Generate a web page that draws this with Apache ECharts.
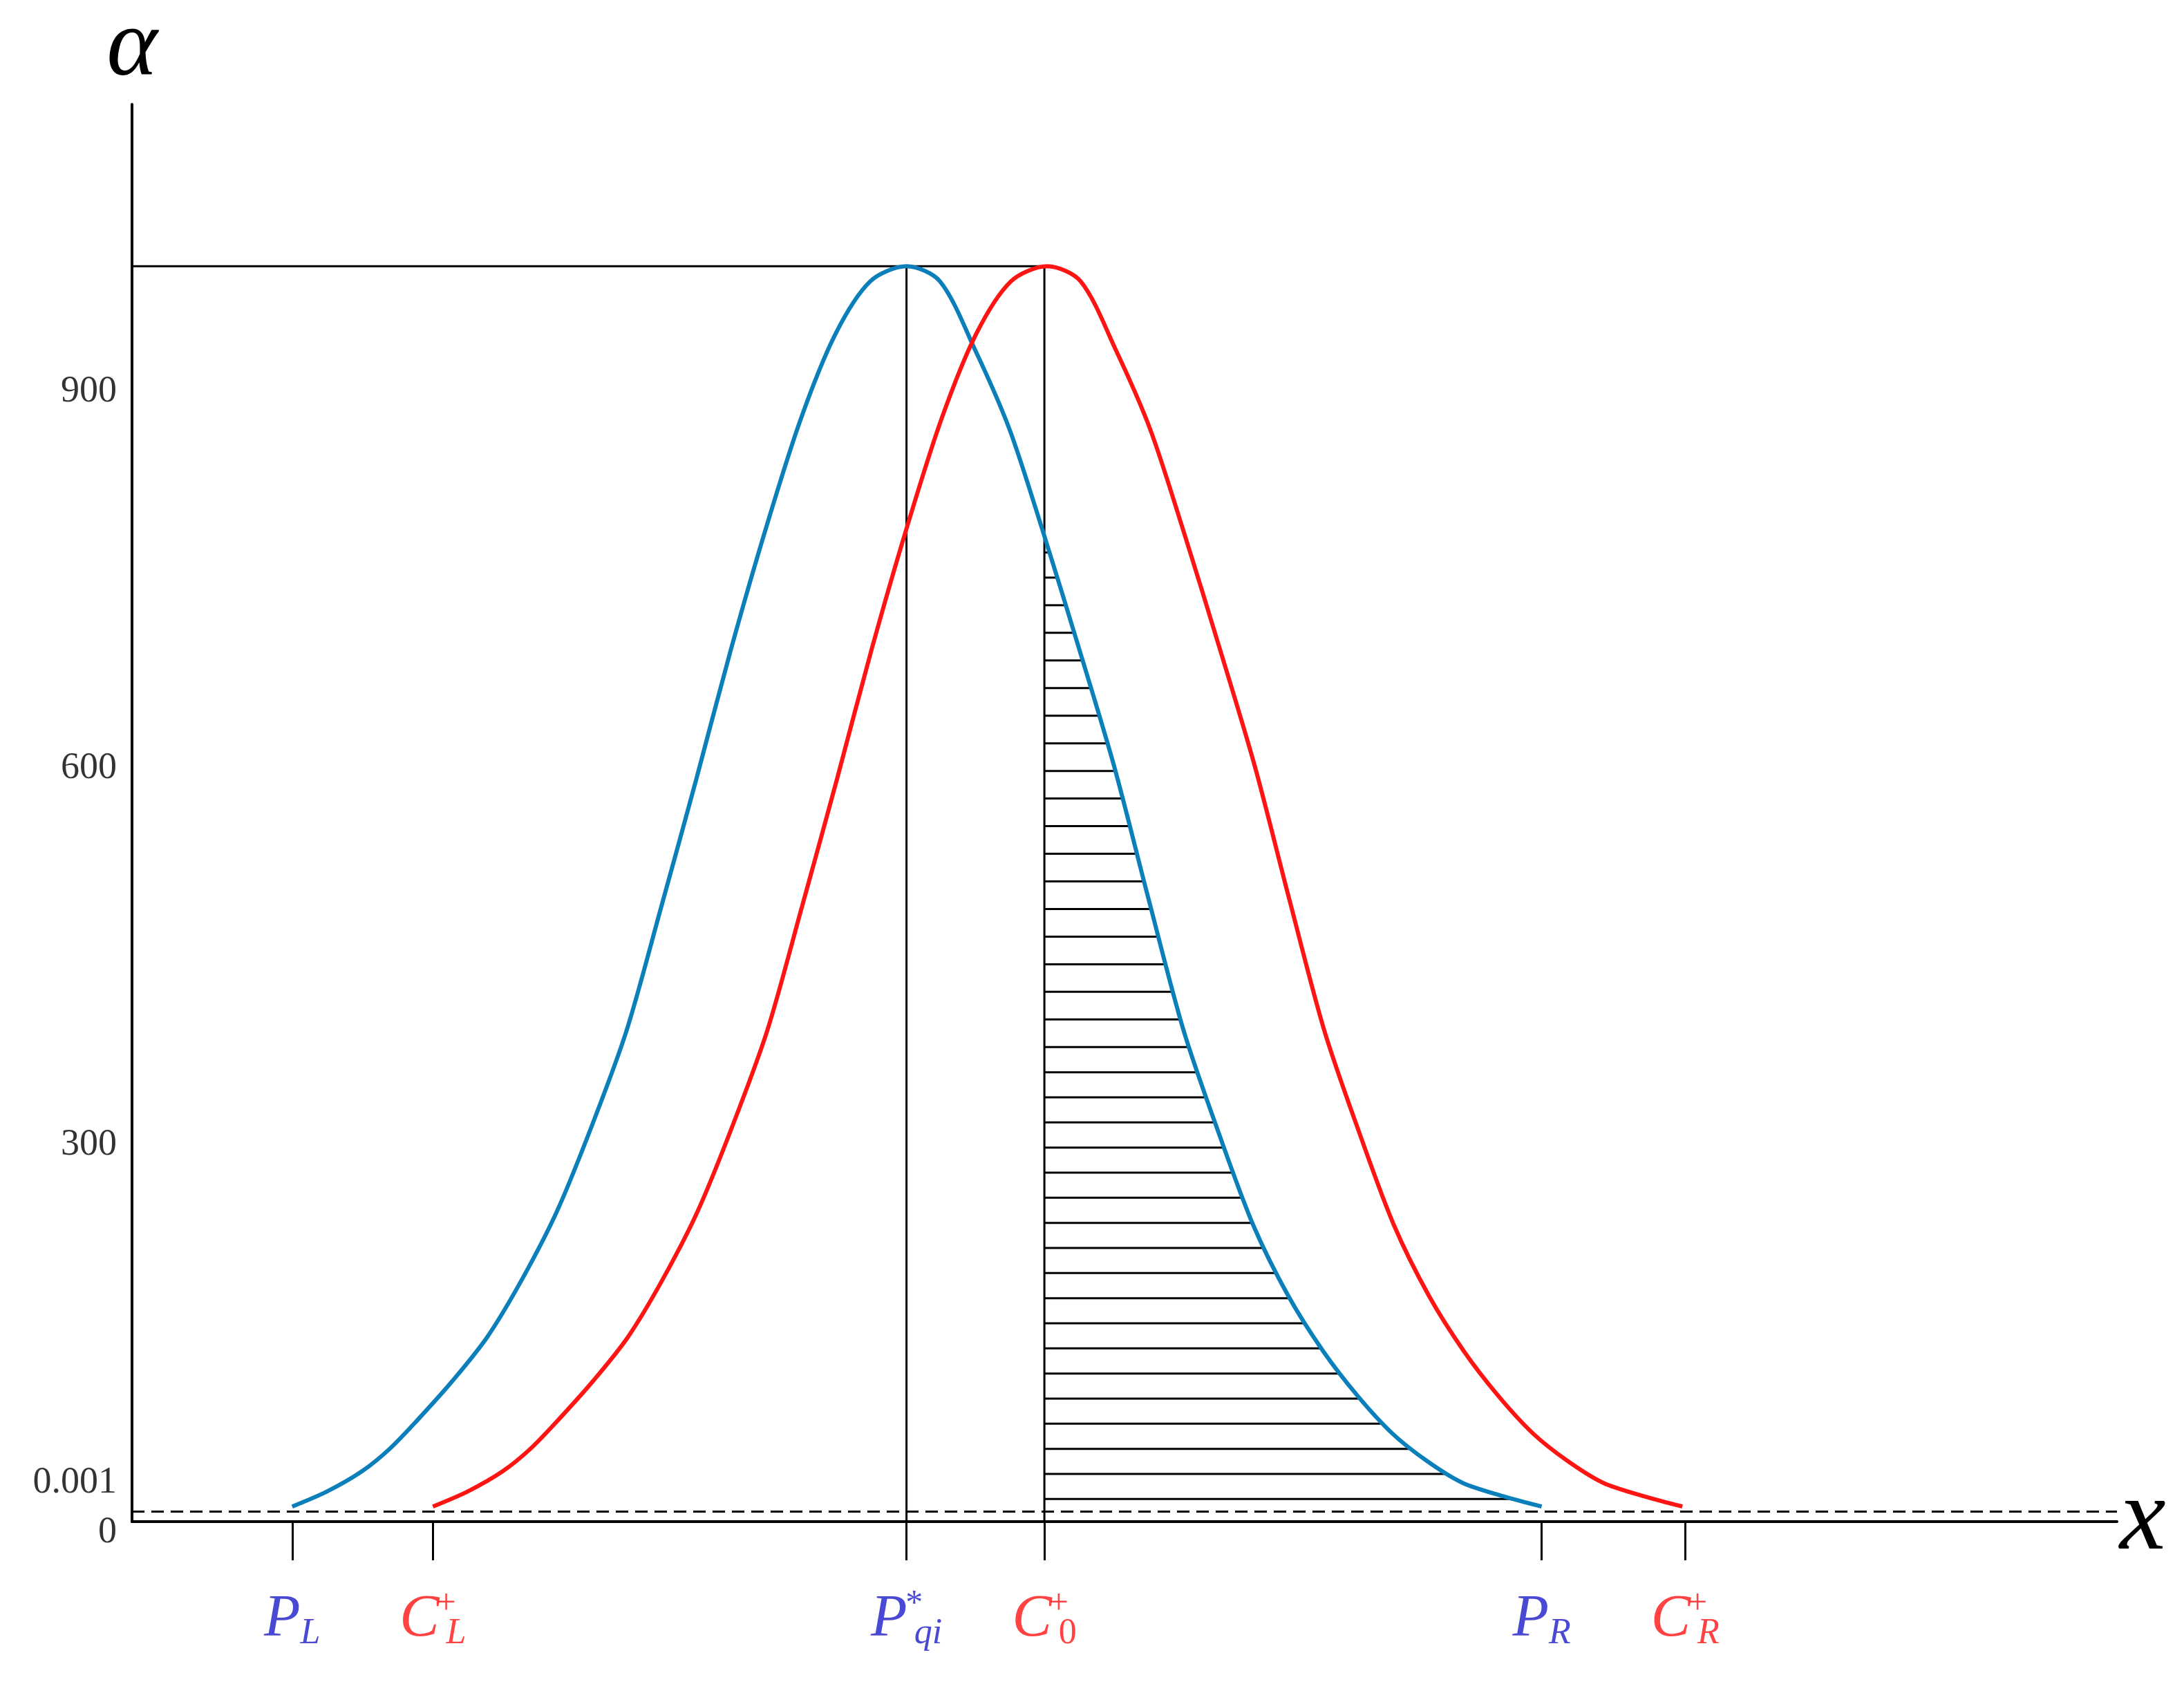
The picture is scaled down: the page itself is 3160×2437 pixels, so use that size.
<!DOCTYPE html>
<html><head><meta charset="utf-8">
<script src="https://cdn.jsdelivr.net/npm/echarts@6/dist/echarts.min.js"></script>
<style>html,body{margin:0;background:#fff}#c{width:3160px;height:2437px}</style>
</head><body><div id="c"></div>
<script>
// key x positions (arbitrary units along x axis)
const keyNames = ['PL','CL','Pqi','C0','PR','CR'];
const keyX = [115, 216, 556, 655, 1012, 1115];
const peak = 1000;
const baseLevel = 8;
// blue curve
const blueX = [115,140,165,185,205,230,255,280,305,330,355,380,405,430,455,480,505,530,556,580,605,630,655,680,705,730,755,780,805,830,855,880,905,930,955,985,1012];
const blueY = [12,24,40,58,81,112,147,193,247,315,391,490,591,695,791,878,946,988,1000,988,934,870,785,695,602,495,391,310,236,180,136,100,70,48,31,20,12];
// red curve
const redX = blueX.map(x=>x+101);
const redY = blueY.slice();
// horizontal hatch levels
const hatchLevels = [18,38,58,78,98,118,138,158,178,198,218,238,258,278,298,318,338,358,378,400,422,444,466,488,510,532,554,576,598,620,642,664,686,708,730,752,772];
// y tick labels
const yTickVals = [0, 31, 300, 600, 900];
const yTickText = ['0','0.001','300','600','900'];

const blue = blueX.map((x,i)=>[x,blueY[i]]);
const red = redX.map((x,i)=>[x,redY[i]]);
const c0 = keyX[3], pqi = keyX[2];
const rightBlue = blue.filter(p=>p[0]>=c0);
function blueXAt(v){
  for(let i=0;i<rightBlue.length-1;i++){
    const a=rightBlue[i],b=rightBlue[i+1];
    if(v<=a[1]&&v>=b[1]) return a[0]+(a[1]-v)/(a[1]-b[1])*(b[0]-a[0]);
  }
  return c0;
}

const BLUE='#0a7fba', RED='#ff1414', LBLUE='#1c1cc8';
const font='Liberation Serif';
const labelDefs = {
  PL:{c:'b', t:'{m|P}{s|L}'}, CL:{c:'r', t:'{m|C}{p|+}{s|L}'},
  Pqi:{c:'b', t:'{m|P}{p|*}{s|qi}'}, C0:{c:'r', t:'{m|C}{p|+}{sn|0}'},
  PR:{c:'b', t:'{m|P}{s|R}'}, CR:{c:'r', t:'{m|C}{p|+}{s|R}'}
};
function rich(col){
  return {
    m:{fontFamily:font,fontStyle:'italic',fontSize:86,color:col,lineHeight:100},
    s:{fontFamily:font,fontStyle:'italic',fontSize:52,color:col,padding:[40,0,0,0]},
    sn:{fontFamily:font,fontSize:52,color:col,padding:[40,0,0,0]},
    p:{fontFamily:font,fontSize:50,color:col,width:0,padding:[0,0,44,10]}
  };
}
const labelPts = keyX.map((x,i)=>{
  const d=labelDefs[keyNames[i]]; const col=d.c==='b'?LBLUE:RED;
  return {value:[x,0],label:{show:true,position:'bottom',distance:92,formatter:d.t,rich:rich(col)}};
});
const chart = echarts.init(document.getElementById('c'));
chart.setOption({
  animation:false,
  grid:{left:191,right:97,top:151,bottom:235},
  xAxis:{type:'value',min:0,max:1425,
    axisLine:{onZero:true,lineStyle:{color:'#000',width:4}},
    axisTick:{show:true,customValues:keyX,length:56,inside:false,lineStyle:{color:'#000',width:3}},
    axisLabel:{show:false},splitLine:{show:false},
    name:'x',nameLocation:'end',nameGap:4,
    nameTextStyle:{fontFamily:font,fontStyle:'italic',fontSize:150,color:'#000',verticalAlign:'middle',padding:[0,0,20,0]}},
  yAxis:{type:'value',min:0,max:1129,
    axisLine:{show:true,lineStyle:{color:'#000',width:4}},
    axisTick:{show:false},axisLabel:{show:false},splitLine:{show:false},
    name:'α',nameLocation:'end',nameGap:10,
    nameTextStyle:{fontFamily:font,fontStyle:'italic',fontSize:140,color:'#000',align:'center'}},
  series:[
    {type:'custom',data:hatchLevels.map(v=>[v]),silent:true,
     renderItem:function(params,api){
       const v=api.value(0);
       const p1=api.coord([c0,v]), p2=api.coord([blueXAt(v),v]);
       return {type:'line',shape:{x1:p1[0],y1:p1[1],x2:p2[0],y2:p2[1]},style:{stroke:'#000',lineWidth:3}};
     }},
    {type:'line',data:[[0,peak],[c0,peak]],symbol:'none',lineStyle:{color:'#000',width:3}},
    {type:'line',data:[[pqi,0],[pqi,peak]],symbol:'none',lineStyle:{color:'#000',width:3}},
    {type:'line',data:[[c0,0],[c0,peak]],symbol:'none',lineStyle:{color:'#000',width:3}},
    {type:'line',data:[[0,baseLevel],[1425,baseLevel]],symbol:'none',lineStyle:{color:'#000',width:3,type:[18,10]}},
    {type:'line',data:blue,smooth:0.3,symbol:'none',lineStyle:{color:BLUE,width:6}},
    {type:'line',data:red,smooth:0.3,symbol:'none',lineStyle:{color:RED,width:6}},
    {type:'scatter',symbolSize:0,data:labelPts,silent:true},
    {type:'scatter',symbolSize:0,silent:true,
     data:yTickVals.map((v,i)=>({value:[0,v],label:{show:true,position:'left',distance:22,formatter:yTickText[i],
       fontFamily:font,fontSize:54,color:'#000',offset:[0,v===0?16:0]}}))}
  ]
});
</script></body></html>
